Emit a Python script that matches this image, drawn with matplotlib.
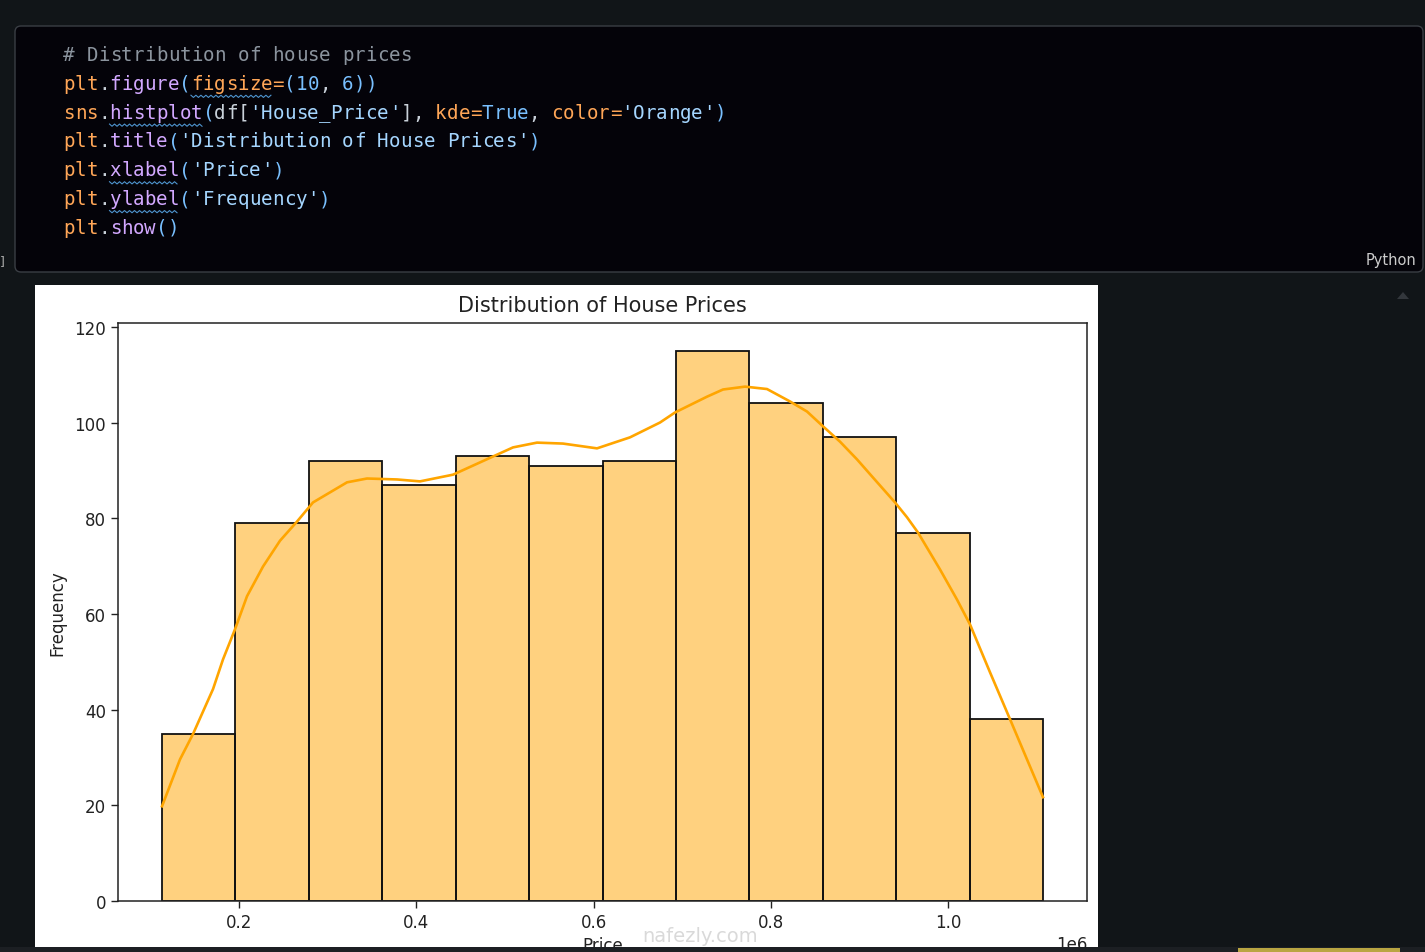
import numpy as np
import matplotlib.pyplot as plt
from matplotlib.patches import Rectangle, FancyBboxPatch, Polygon

# histogram
price_min = 113100
price_max = 1107200
counts = [35, 79, 92, 87, 93, 91, 92, 115, 104, 97, 77, 38]

# kde line, read point by point
kde_x = [113100, 133430, 148100, 170700, 181950, 195490, 209030, 227080,
         246260, 265440, 283500, 302680, 321860, 344430, 378280, 404230,
         441470, 486600, 509170, 536250, 565590, 603950, 641180, 675040,
         691960, 728070, 746120, 770950, 795770, 821720, 840900, 858960,
         878140, 897320, 915370, 940200, 953740, 966150, 990970, 1010150,
         1024840, 1047400, 1069960, 1089140, 1107200]
kde_y = [19.8, 29.6, 34.9, 44.3, 50.5, 56.8, 63.7, 69.9,
         75.3, 79.3, 83.3, 85.4, 87.5, 88.3, 88.1, 87.7,
         89.1, 92.9, 94.8, 95.8, 95.6, 94.6, 96.9, 100.0,
         102.1, 105.4, 106.9, 107.5, 107.0, 104.4, 102.3, 99.2,
         96.0, 92.3, 88.5, 83.3, 80.2, 77.0, 69.3, 63.0,
         57.8, 47.8, 38.0, 29.6, 21.7]

W, H = 1425, 953
O, P, B, S, T, C = '#ffa657', '#d2a8ff', '#79c0ff', '#a5d6ff', '#c9d1d9', '#8b949e'

code_lines = [
    [('# Distribution of house prices', C)],
    [('plt', O), ('.', T), ('figure', P), ('(', B), ('figsize', O), ('=', O),
     ('(', B), ('10', B), (', ', T), ('6', B), ('))', B)],
    [('sns', O), ('.', T), ('histplot', P), ('(', B), ('df', T), ('[', T),
     ("'House_Price'", S), (']', T), (', ', T), ('kde', O), ('=', O), ('True', B),
     (', ', T), ('color', O), ('=', O), ("'Orange'", S), (')', B)],
    [('plt', O), ('.', T), ('title', P), ('(', B), ("'Distribution of House Prices'", S), (')', B)],
    [('plt', O), ('.', T), ('xlabel', P), ('(', B), ("'Price'", S), (')', B)],
    [('plt', O), ('.', T), ('ylabel', P), ('(', B), ("'Frequency'", S), (')', B)],
    [('plt', O), ('.', T), ('show', P), ('()', B)],
]
# (line, first char, last char) of the wavy underlines
squiggles = [(1, 11, 17), (2, 4, 11), (4, 4, 9), (5, 4, 9)]

fig = plt.figure(figsize=(W / 100, H / 100), dpi=100)
fig.patch.set_facecolor('#111518')

bg = fig.add_axes([0, 0, 1, 1], zorder=-1)
bg.set_xlim(0, W)
bg.set_ylim(H, 0)
bg.axis('off')

# code cell
bg.add_patch(FancyBboxPatch((15, 27), 1408, 246, boxstyle='round,pad=0,rounding_size=6',
                            facecolor='#040309', edgecolor='#3a3e44', lw=1))
cw = 11.63
x0, y0, dy = 63, 55.5, 28.83
for li, toks in enumerate(code_lines):
    i = 0
    for txt, col in toks:
        for ch in txt:
            if ch != ' ':
                bg.text(x0 + (i + 0.5) * cw, y0 + li * dy, ch, color=col,
                        family='DejaVu Sans Mono', fontsize=13.8,
                        ha='center', va='center')
            i += 1
for li, a, b in squiggles:
    xs = np.arange(x0 + a * cw, x0 + (b + 1) * cw + 0.1, 2.5)
    ys = y0 + li * dy + 13 + np.where(np.arange(len(xs)) % 2 == 0, -1.1, 1.1)
    bg.plot(xs, ys, color='#4e94ce', lw=0.8)

bg.text(1416, 261, 'Python', color='#cccccc', fontsize=10.5, ha='right', va='center',
        family='DejaVu Sans')
bg.text(0, 262, ']', color='#aaaaaa', fontsize=9, ha='left', va='center')
bg.add_patch(Polygon([[1397, 300], [1409, 300], [1403, 293]], closed=True,
                     facecolor='#33373c', edgecolor='none'))

# white output panel
bg.add_patch(Rectangle((35, 286), 1063, 670, facecolor='white', edgecolor='none'))

# the chart
ax = fig.add_axes([118 / W, 1 - 902 / H, 969 / W, 578 / H])
edges = np.linspace(price_min, price_max, len(counts) + 1)
ax.bar(edges[:-1], counts, width=np.diff(edges), align='edge',
       facecolor='orange', alpha=0.5, edgecolor='none')
ax.bar(edges[:-1], counts, width=np.diff(edges), align='edge',
       facecolor='none', edgecolor='#111111', lw=1.3)
ax.plot(kde_x, kde_y, color='orange', lw=1.9, solid_joinstyle='round')
ax.set_xlim(63450, 1156850)
ax.set_ylim(0, 120.8)
ax.set_yticks([0, 20, 40, 60, 80, 100, 120])
ax.set_xticks([200000, 400000, 600000, 800000, 1000000])
ax.ticklabel_format(axis='x', style='sci', scilimits=(6, 6))
ax.xaxis.get_offset_text().set_fontsize(12)
ax.tick_params(labelsize=12, length=5, width=1, colors='#222222')
for sp in ax.spines.values():
    sp.set_linewidth(1.1)
    sp.set_color('#222222')
ax.set_title('Distribution of House Prices', fontsize=15, color='#222222', pad=9)
ax.set_xlabel('Price', fontsize=12, color='#222222', labelpad=4)
ax.set_ylabel('Frequency', fontsize=12, color='#222222', labelpad=6)

# overlay: watermark and bottom strip
top = fig.add_axes([0, 0, 1, 1], zorder=5)
top.set_xlim(0, W)
top.set_ylim(H, 0)
top.axis('off')
top.patch.set_alpha(0)
top.text(700, 946, 'nafezly.com', color='#bbbbbb', alpha=0.55, fontsize=14,
         ha='center', va='bottom', family='DejaVu Sans')
top.add_patch(Rectangle((0, 948), W, 6, facecolor='#1c1f23', edgecolor='none'))
top.add_patch(Rectangle((1238, 949), 162, 5, facecolor='#b9a542', edgecolor='none'))

fig.savefig('out.png', dpi=100, facecolor=fig.get_facecolor())
